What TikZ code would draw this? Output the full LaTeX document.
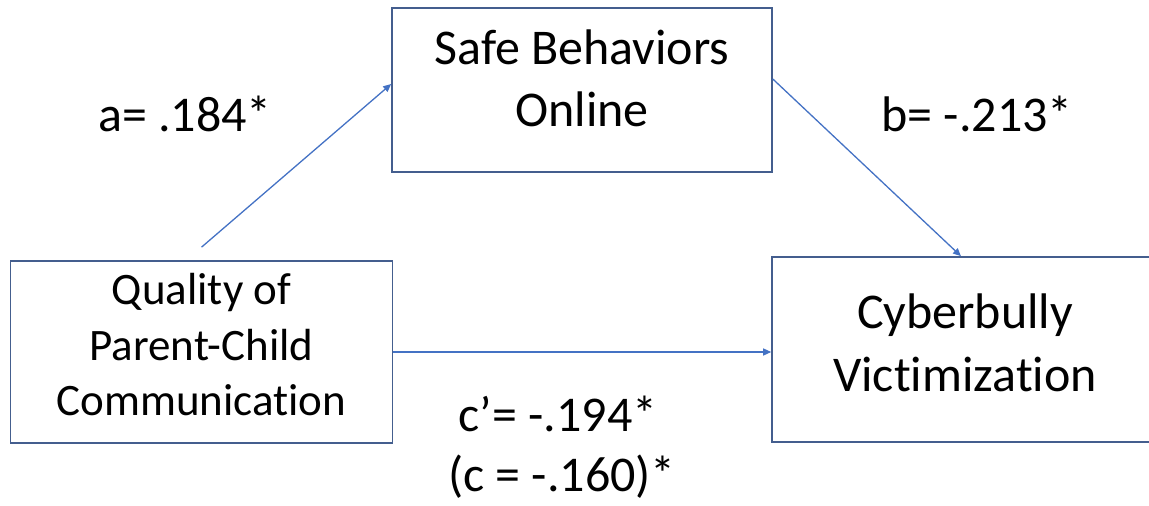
\documentclass[tikz,border=0pt]{standalone}
\usepackage{fontspec}
\setmainfont{Carlito}[Ligatures={NoCommon}]
\usetikzlibrary{arrows.meta}
\definecolor{boxline}{RGB}{68,94,142}
\definecolor{linkline}{RGB}{68,114,196}

\begin{document}
\begin{tikzpicture}[x=1pt,y=1pt,
    var/.style={draw=boxline,line width=1.6pt,align=center,inner sep=0pt},
    coef/.style={anchor=base,inner sep=0pt,font=\fontsize{50}{61}\selectfont},
    link/.style={draw=linkline,line width=1.3pt,-{Triangle[length=8pt,width=7pt]}}]
    \useasboundingbox (0,0) rectangle (1149,506);
    \node[var,minimum width=380pt,minimum height=164pt,text height=110pt,text depth=36pt,
          font=\fontsize{50}{62}\selectfont] (S) at (582,416) {Safe Behaviors\\Online};
    \node[var,minimum width=382pt,minimum height=182pt,text height=150pt,text depth=22pt,
          font=\fontsize{45}{55.5}\selectfont] (Q) at (201.5,154) {Quality of\\Parent-Child\\Communication};
    \node[var,minimum width=386pt,minimum height=185pt,text height=115pt,text depth=30pt,
          font=\fontsize{50}{63}\selectfont] (C) at (965,156.5) {Cyberbully\\Victimization};
    \node[coef] (a) at (185,374) {a= .184*};
    \node[coef] (b) at (977,374) {b= -.213*};
    \node[coef] (c1) at (558,74) {c’= -.194*};
    \node[coef] (c2) at (562,14) {(c = -.160)*};
    \draw[link] ([yshift=13pt]Q.north) -- ([yshift=6pt]S.west);
    \draw[link] ([yshift=11pt]S.east) -- ([xshift=-4pt]C.north);
    \draw[link] (Q.east) -- (Q.east -| C.west);
\end{tikzpicture}
\end{document}
